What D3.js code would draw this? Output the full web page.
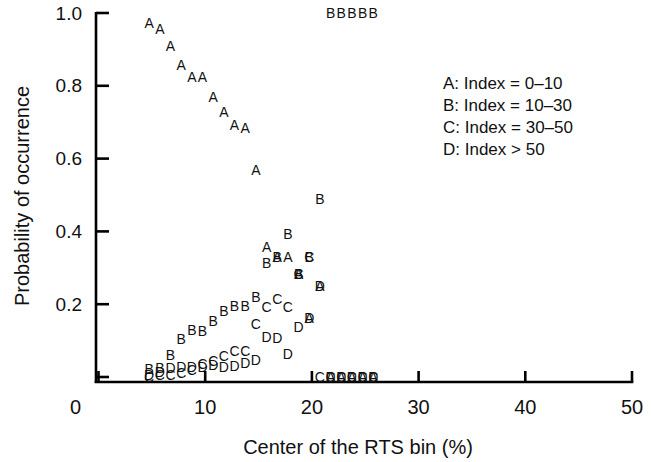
<!DOCTYPE html>
<html>
<head>
<meta charset="utf-8">
<script src="https://cdn.jsdelivr.net/npm/d3@7"></script>
<style>
  html, body { margin: 0; padding: 0; background: #fff; }
  svg { display: block; font-family: "Liberation Sans", Arial, Helvetica, sans-serif; }
</style>
</head>
<body>
<svg id="chart" width="659" height="462"></svg>
<script>
// RTS bin centers (%)
const binCenters = [4.75, 5.75, 6.75, 7.75, 8.75, 9.75, 10.75, 11.75, 12.75, 13.75, 14.75,
                    15.75, 16.75, 17.75, 18.75, 19.75, 20.75, 21.75, 22.75, 23.75, 24.75, 25.75];

// Probability of occurrence per index class
const seriesA = [0.973, 0.956, 0.909, 0.857, 0.824, 0.824, 0.769, 0.728, 0.692, 0.684, 0.569,
                 0.357, 0.330, 0.330, 0.283, 0.162, 0.250, 0, 0, 0, 0, 0];
const seriesB = [0.022, 0.025, 0.060, 0.104, 0.130, 0.126, 0.154, 0.180, 0.195, 0.195, 0.220,
                 0.313, 0.330, 0.393, 0.283, 0.330, 0.490, 1, 1, 1, 1, 1];
const seriesC = [0.000, 0.005, 0.005, 0.012, 0.020, 0.035, 0.045, 0.058, 0.071, 0.071, 0.146,
                 0.192, 0.214, 0.192, 0.283, 0.330, 0, 0, 0, 0, 0, 0];
const seriesD = [0.005, 0.014, 0.026, 0.027, 0.027, 0.027, 0.032, 0.027, 0.030, 0.038, 0.047,
                 0.110, 0.107, 0.063, 0.137, 0.162, 0.250, 0, 0, 0, 0, 0];

const seriesKeys = ["A", "B", "C", "D"];
const legendLabels = ["A: Index = 0\u201310", "B: Index = 10\u201330", "C: Index = 30\u201350", "D: Index > 50"];

const xTicks = [0, 10, 20, 30, 40, 50];
const yTicks = [0, 0.2, 0.4, 0.6, 0.8, 1.0];
const yTickLabels = ["", "0.2", "0.4", "0.6", "0.8", "1.0"];

const xTitle = "Center of the RTS bin (%)";
const yTitle = "Probability of occurrence";

const svg = d3.select("#chart");

const x = d3.scaleLinear().domain([0, 50]).range([98.5, 632]);
const y = d3.scaleLinear().domain([0, 1]).range([377, 13]);

const axisColor = "#000";
const axisWidth = 2.6;

// axis lines
svg.append("line")
  .attr("x1", 96).attr("x2", 96).attr("y1", 12).attr("y2", 383)
  .attr("stroke", axisColor).attr("stroke-width", axisWidth);
svg.append("line")
  .attr("x1", 94.7).attr("x2", 633.3).attr("y1", 382).attr("y2", 382)
  .attr("stroke", axisColor).attr("stroke-width", axisWidth);

// y ticks point inward
svg.append("g").selectAll("line").data(yTicks).join("line")
  .attr("x1", 96).attr("x2", 109)
  .attr("y1", d => y(d)).attr("y2", d => y(d))
  .attr("stroke", axisColor).attr("stroke-width", axisWidth);

// x ticks point upward
svg.append("g").selectAll("line").data(xTicks).join("line")
  .attr("x1", d => x(d)).attr("x2", d => x(d))
  .attr("y1", 382).attr("y2", 371)
  .attr("stroke", axisColor).attr("stroke-width", axisWidth);

// y tick labels
svg.append("g").selectAll("text").data(yTicks).join("text")
  .attr("x", 82)
  .attr("y", d => y(d))
  .attr("text-anchor", "end")
  .attr("dominant-baseline", "central")
  .attr("font-size", 19)
  .attr("fill", "#111")
  .text((d, i) => yTickLabels[i]);

// x tick labels (the origin label sits left of the axis corner)
svg.append("g").selectAll("text").data(xTicks).join("text")
  .attr("x", d => x(d) + (d === 0 ? -23 : 0))
  .attr("y", 414)
  .attr("text-anchor", "middle")
  .attr("font-size", 20)
  .attr("fill", "#111")
  .text(d => d);

// axis titles
svg.append("text")
  .attr("x", 358).attr("y", 454)
  .attr("text-anchor", "middle")
  .attr("font-size", 20)
  .attr("fill", "#111")
  .text(xTitle);

svg.append("text")
  .attr("transform", "translate(29,196) rotate(-90)")
  .attr("text-anchor", "middle")
  .attr("font-size", 20)
  .attr("fill", "#111")
  .text(yTitle);

// letter markers, one group per index class
const seriesValues = { A: seriesA, B: seriesB, C: seriesC, D: seriesD };
seriesKeys.forEach(key => {
  svg.append("g").attr("class", "series-" + key)
    .selectAll("text").data(binCenters.map((c, i) => ({ c, v: seriesValues[key][i] })))
    .join("text")
    .attr("x", d => x(d.c))
    .attr("y", d => y(d.v))
    .attr("text-anchor", "middle")
    .attr("dominant-baseline", "central")
    .attr("font-size", 14)
    .attr("fill", "#111")
    .text(key);
});

// legend
svg.append("g").selectAll("text").data(legendLabels).join("text")
  .attr("x", 443)
  .attr("y", (d, i) => 89 + i * 22)
  .attr("font-size", 17)
  .attr("fill", "#111")
  .text(d => d);
</script>
</body>
</html>
